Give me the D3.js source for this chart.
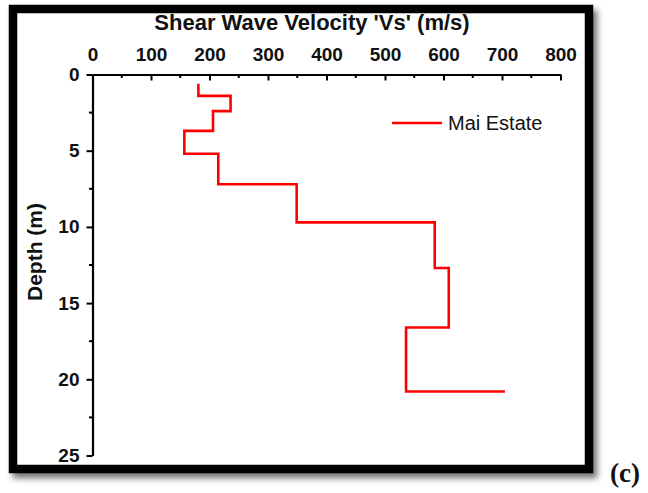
<!DOCTYPE html>
<html>
<head>
<meta charset="utf-8">
<script src="https://cdn.jsdelivr.net/npm/d3@7"></script>
<style>
  html, body { margin: 0; padding: 0; background: #fff; }
  svg { display: block; }
  text { font-family: "Liberation Sans", Arial, sans-serif; fill: #111; }
</style>
</head>
<body>
<svg id="chart" width="648" height="493"></svg>
<script>
// Layer profile: shear-wave velocity (m/s) and the depth (m) at which each layer begins
const velocity = [181, 236, 206, 157, 215, 349, 585, 609, 536, 705];
const depth    = [0.6, 1.4, 2.4, 3.7, 5.2, 7.2, 9.7, 12.7, 16.6, 20.8];
const seriesName = "Mai Estate";
const xTicks = [0, 100, 200, 300, 400, 500, 600, 700, 800];
const yTicks = [0, 5, 10, 15, 20, 25];

const svg = d3.select("#chart");

// Drop shadow for the framed panel
const defs = svg.append("defs");
const f = defs.append("filter").attr("id", "shadow")
  .attr("x", "-5%").attr("y", "-5%").attr("width", "115%").attr("height", "115%");
f.append("feGaussianBlur").attr("in", "SourceAlpha").attr("stdDeviation", 3).attr("result", "b");
f.append("feOffset").attr("in", "b").attr("dx", 4).attr("dy", 5).attr("result", "o");
f.append("feComponentTransfer").attr("in", "o").attr("result", "s")
  .append("feFuncA").attr("type", "linear").attr("slope", 0.55);
const m = f.append("feMerge");
m.append("feMergeNode").attr("in", "s");
m.append("feMergeNode").attr("in", "SourceGraphic");

svg.append("rect")
  .attr("x", 13).attr("y", 9).attr("width", 576).attr("height", 460)
  .attr("fill", "#fff").attr("stroke", "#000").attr("stroke-width", 8.5)
  .attr("filter", "url(#shadow)");

const x = d3.scaleLinear().domain([0, 800]).range([92.5, 560.5]);
const y = d3.scaleLinear().domain([0, 25]).range([74.5, 455.5]);

const labelFont = sel => sel
  .style("font-family", "'Liberation Sans', Arial, sans-serif")
  .style("font-weight", "bold").style("font-size", "19px").attr("fill", "#111");

// Top axis: ticks point into the plot
const xMinor = d3.range(50, 800, 100);
svg.append("g").selectAll("line").data(xMinor).join("line")
  .attr("x1", d => x(d)).attr("x2", d => x(d))
  .attr("y1", y(0)).attr("y2", y(0) + 3.5)
  .attr("stroke", "#000").attr("stroke-width", 2);

const xAxis = svg.append("g")
  .attr("transform", `translate(0,${y(0)})`)
  .call(d3.axisTop(x).tickValues(xTicks).tickSizeInner(-6).tickSizeOuter(0).tickPadding(14));
xAxis.select(".domain").attr("stroke", "#000").attr("stroke-width", 2.2);
xAxis.selectAll(".tick line").attr("stroke", "#000").attr("stroke-width", 2);
xAxis.selectAll("text").call(labelFont);

// Left axis: ticks point outward
const yMinor = d3.range(2.5, 25, 5);
svg.append("g").selectAll("line").data(yMinor).join("line")
  .attr("x1", x(0) - 3.5).attr("x2", x(0))
  .attr("y1", d => y(d)).attr("y2", d => y(d))
  .attr("stroke", "#000").attr("stroke-width", 2);

const yAxis = svg.append("g")
  .attr("transform", `translate(${x(0)},0)`)
  .call(d3.axisLeft(y).tickValues(yTicks).tickSizeInner(6).tickSizeOuter(0).tickPadding(7));
yAxis.select(".domain").attr("stroke", "#000").attr("stroke-width", 2.2);
yAxis.selectAll(".tick line").attr("stroke", "#000").attr("stroke-width", 2);
yAxis.selectAll("text").call(labelFont);

// Axis titles
svg.append("text")
  .attr("x", 312).attr("y", 30)
  .attr("text-anchor", "middle")
  .style("font-weight", "bold").style("font-size", "22px")
  .text("Shear Wave Velocity 'Vs' (m/s)");

svg.append("text")
  .attr("transform", `translate(42,252) rotate(-90)`)
  .attr("text-anchor", "middle")
  .style("font-weight", "bold").style("font-size", "21px")
  .text("Depth (m)");

// Velocity profile as a step line (depth changes before velocity)
const pts = velocity.map((v, i) => [v, depth[i]]);
const line = d3.line()
  .x(d => x(d[0])).y(d => y(d[1]))
  .curve(d3.curveStepBefore);
svg.append("path")
  .datum(pts)
  .attr("d", line)
  .attr("fill", "none").attr("stroke", "#ff0000").attr("stroke-width", 2.6)
  .attr("stroke-linejoin", "miter").attr("stroke-linecap", "butt");

// Legend
const lg = svg.append("g");
lg.append("line")
  .attr("x1", 392).attr("x2", 442).attr("y1", 123).attr("y2", 123)
  .attr("stroke", "#ff0000").attr("stroke-width", 2.6);
lg.append("text")
  .attr("x", 448).attr("y", 130)
  .style("font-size", "20px")
  .text(seriesName);

// Panel tag
svg.append("text")
  .attr("x", 610).attr("y", 482)
  .style("font-family", "'Liberation Serif', 'DejaVu Serif', serif")
  .style("font-weight", "bold").style("font-size", "27px")
  .text("(c)");
</script>
</body>
</html>
